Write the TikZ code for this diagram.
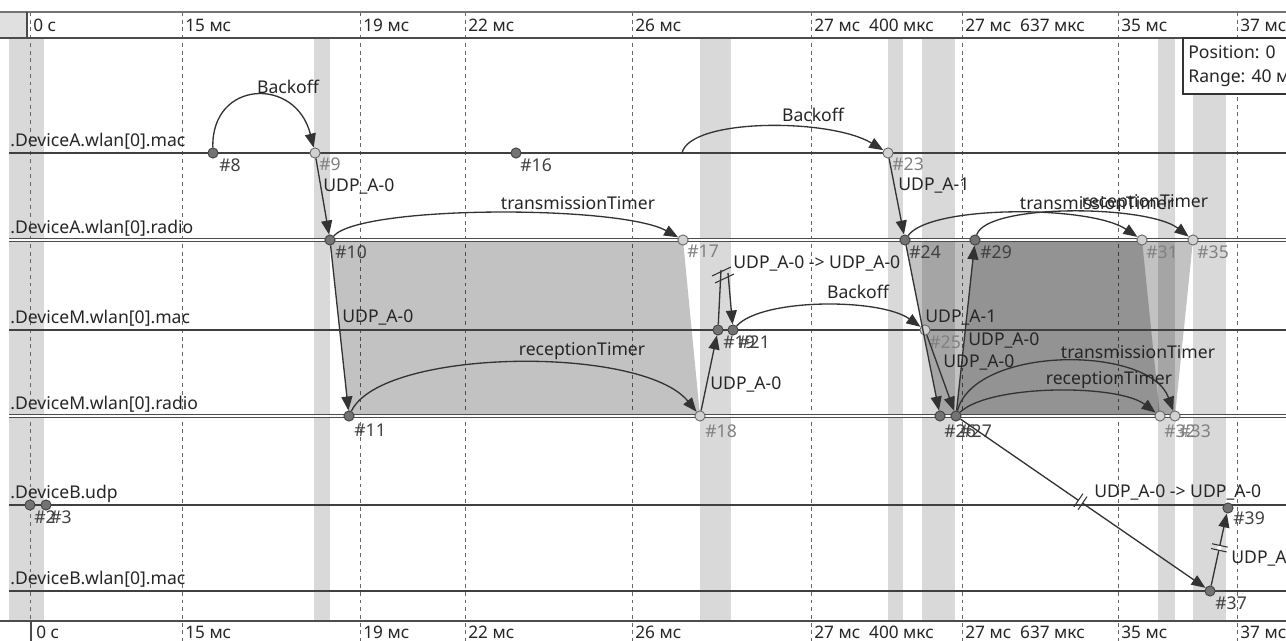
\documentclass[tikz,border=0pt]{standalone}
\usepackage{fontspec}
\setmainfont{Noto Sans}
\usetikzlibrary{arrows.meta,calc}
\pgfdeclarelayer{back}
\pgfsetlayers{back,main}

\begin{document}
\begin{tikzpicture}[x=0.02cm,y=-0.02cm]
\tikzset{
  band/.style={fill=black!15},
  tick/.style={draw=black!60,line width=0.45pt,dash pattern=on 2.2pt off 2.2pt},
  axisline/.style={draw=black!70,line width=0.8pt},
  axislabel/.style={anchor=west,inner sep=0pt,font=\fontsize{9.8}{11}\selectfont,text=black!85},
  lifeline/.style={draw=black!75,line width=0.65pt},
  radioline/.style={draw=black!70,line width=0.55pt,double=white,double distance=1.3pt},
  linelabel/.style={anchor=base west,inner sep=0pt,font=\fontsize{10}{12}\selectfont,text=black!85},
  evdark/.style={circle,draw=black!75,fill=black!55,line width=0.5pt,minimum size=5.8pt,inner sep=0pt},
  evlight/.style={circle,draw=black!60,fill=black!18,line width=0.5pt,minimum size=5.8pt,inner sep=0pt},
  evlabel/.style={anchor=north west,inner sep=0pt,font=\fontsize{10}{12}\selectfont,text=black!75},
  evlabellight/.style={evlabel,text=black!50},
  msg/.style={draw=black!80,line width=0.75pt,-{Triangle[length=2.8mm,width=2.2mm]}},
  msgplain/.style={draw=black!80,line width=0.75pt},
  msglabel/.style={inner sep=0pt,font=\fontsize{10}{12}\selectfont,text=black!85},
  breakmark/.style={draw=black!80,line width=0.6pt},
  txshade/.style={fill=black,fill opacity=0.24}
}
\useasboundingbox (0,0) rectangle (1286,641);
\clip (0,0) rectangle (1286,641);

% axes
\fill[black!12] (0,12) rectangle (27,38);
\draw[draw=black!55,line width=1.4pt] (0,12) -- (1286,12);
\draw[axisline] (0,38) -- (1286,38);
\draw[axisline] (0,621) -- (1286,621);
\draw[axisline] (27,12) -- (27,38);
\draw[axisline] (31,621) -- (31,641);
\node[axislabel] (at_0) at (33,25) {0 с};
\node[axislabel] (at_15) at (185,25) {15 мс};
\node[axislabel] (at_19) at (363,25) {19 мс};
\node[axislabel] (at_22) at (468,25) {22 мс};
\node[axislabel] (at_26) at (635,25) {26 мс};
\node[axislabel] (at_274) at (814,25) {27 мс\ \ 400 мкс};
\node[axislabel] (at_276) at (965,25) {27 мс\ \ 637 мкс};
\node[axislabel] (at_35) at (1121,25) {35 мс};
\node[axislabel] (at_37) at (1240,25) {37 мс};
\node[axislabel] (ab_0) at (36,632) {0 с};
\node[axislabel] (ab_15) at (185,632) {15 мс};
\node[axislabel] (ab_19) at (363,632) {19 мс};
\node[axislabel] (ab_22) at (468,632) {22 мс};
\node[axislabel] (ab_26) at (635,632) {26 мс};
\node[axislabel] (ab_274) at (814,632) {27 мс\ \ 400 мкс};
\node[axislabel] (ab_276) at (965,632) {27 мс\ \ 637 мкс};
\node[axislabel] (ab_35) at (1121,632) {35 мс};
\node[axislabel] (ab_37) at (1240,632) {37 мс};

% lifelines
\draw[lifeline] (9,153) -- (1286,153);
\draw[radioline] (9,240) -- (1286,240);
\draw[lifeline] (9,330) -- (1286,330);
\draw[radioline] (9,416) -- (1286,416);
\draw[lifeline] (9,505) -- (1286,505);
\draw[lifeline] (9,591) -- (1286,591);
\node[linelabel] (ll_amac) at (10,147) {.DeviceA.wlan[0].mac};
\node[linelabel] (ll_aradio) at (10,234) {.DeviceA.wlan[0].radio};
\node[linelabel] (ll_mmac) at (10,324) {.DeviceM.wlan[0].mac};
\node[linelabel] (ll_mradio) at (10,410) {.DeviceM.wlan[0].radio};
\node[linelabel] (ll_budp) at (10,499) {.DeviceB.udp};
\node[linelabel] (ll_bmac) at (10,585) {.DeviceB.wlan[0].mac};

% events
\node[evdark] (e_8) at (213,153) {};
\node[evlight] (e_9) at (315,153) {};
\node[evdark] (e_16) at (516,153) {};
\node[evlight] (e_23) at (888,153) {};
\coordinate (c_bo) at (682,153);
\node[evdark] (e_10) at (330,240) {};
\node[evlight] (e_17) at (683,240) {};
\node[evdark] (e_24) at (905,240) {};
\node[evdark] (e_29) at (975,240) {};
\node[evlight] (e_31) at (1142,240) {};
\node[evlight] (e_35) at (1193,240) {};
\node[evdark] (e_19) at (718,330) {};
\node[evdark] (e_21) at (733,330) {};
\node[evlight] (e_25) at (925,330) {};
\node[evdark] (e_11) at (349,416) {};
\node[evlight] (e_18) at (700,416) {};
\node[evdark] (e_26) at (940,416) {};
\node[evdark] (e_27) at (956,416) {};
\node[evlight] (e_32) at (1160,416) {};
\node[evlight] (e_33) at (1175,416) {};
\node[evdark] (e_2) at (30,505) {};
\node[evdark] (e_3) at (46,505) {};
\node[evdark] (e_39) at (1228,508) {};
\node[evdark] (e_37) at (1210,591) {};

% event labels
\node[evlabel] (l_8) at (219,158) {\#8};
\node[evlabellight] (l_9) at (319,157) {\#9};
\node[evlabel] (l_16) at (520,158) {\#16};
\node[evlabellight] (l_23) at (892,157) {\#23};
\node[evlabel] (l_10) at (335,245) {\#10};
\node[evlabellight] (l_17) at (687,245) {\#17};
\node[evlabel] (l_24) at (909,245) {\#24};
\node[evlabel] (l_29) at (980,245) {\#29};
\node[evlabellight] (l_31) at (1146,245) {\#31};
\node[evlabellight] (l_35) at (1197,245) {\#35};
\node[evlabel] (l_19) at (723,335) {\#19};
\node[evlabel] (l_21) at (738,335) {\#21};
\node[evlabellight] (l_25) at (929,335) {\#25};
\node[evlabel] (l_11) at (354,424) {\#11};
\node[evlabellight] (l_18) at (705,424) {\#18};
\node[evlabel] (l_26) at (944,424) {\#26};
\node[evlabel] (l_27) at (960,424) {\#27};
\node[evlabellight] (l_32) at (1164,424) {\#32};
\node[evlabellight] (l_33) at (1179,424) {\#33};
\node[evlabel] (l_2) at (34,510) {\#2};
\node[evlabel] (l_3) at (50,510) {\#3};
\node[evlabel] (l_39) at (1233,511) {\#39};
\node[evlabel] (l_37) at (1215,596) {\#37};

% timers and messages
\draw[msg] (e_8) .. controls (211,80) and (296,76) .. (e_9);
\draw[msg] (e_9) -- (e_10);
\draw[msg] (e_10) .. controls (362,205) and (620,205) .. (e_17);
\draw[msg] (e_10) -- (e_11);
\draw[msg] (e_11) .. controls (382,348) and (642,345) .. (e_18);
\draw[msg] (e_18) -- (e_19);
\coordinate (k_a) at (721,270);
\coordinate (k_b) at (728,273);
\draw[msgplain] (e_19) -- (k_a);
\draw[msg] (k_b) -- (e_21);
\draw[breakmark] (712,276) -- (731,267);
\draw[breakmark] (715,283) -- (734,274);
\draw[msg] (e_21) .. controls (762,298) and (880,298) .. (e_25);
\draw[msg] (c_bo) .. controls (690,118) and (830,118) .. (e_23);
\draw[msg] (e_23) -- (e_24);
\draw[msg] (e_24) .. controls (930,205) and (1090,205) .. (e_31);
\draw[msg] (e_29) .. controls (987,203) and (1148,205) .. (e_35);
\draw[msg] (e_24) -- (e_26);
\draw[msg] (e_25) -- (e_27);
\draw[msg] (e_27) -- (e_29);
\draw[msg] (e_27) .. controls (975,345) and (1150,345) .. (e_33);
\draw[msg] (e_27) .. controls (990,384) and (1118,384) .. (e_32);
\draw[msg] (e_27) -- (e_37);
\coordinate (k_c) at ($(e_27)!0.49!(e_37)$);
\draw[white,line width=2.2pt] ($(k_c)+(-2.1,-1.4)$) -- ($(k_c)+(2.1,1.4)$);
\draw[breakmark] ($(k_c)+(2.4,-8)$) -- ($(k_c)+(-6.6,5.2)$);
\draw[breakmark] ($(k_c)+(6.6,-5.2)$) -- ($(k_c)+(-2.4,8)$);
\draw[msg] (e_37) -- (e_39);
\coordinate (k_d) at ($(e_37)!0.52!(e_39)$);
\draw[white,line width=2.2pt] ($(k_d)+(-0.5,2.4)$) -- ($(k_d)+(0.5,-2.4)$);
\draw[breakmark] ($(k_d)+(7.3,4.1)$) -- ($(k_d)+(-8.3,0.7)$);
\draw[breakmark] ($(k_d)+(8.3,-0.7)$) -- ($(k_d)+(-7.3,-4.1)$);

% message labels
\node[msglabel] (m_bo1) at (288,87) {Backoff};
\node[msglabel,anchor=west] (m_u1) at (323,186) {UDP\_A-0};
\node[msglabel] (m_tt1) at (578,203) {transmissionTimer};
\node[msglabel,anchor=west] (m_u2) at (342,317) {UDP\_A-0};
\node[msglabel] (m_rt1) at (582,351) {receptionTimer};
\node[msglabel,anchor=west] (m_u3) at (710,384) {UDP\_A-0};
\node[msglabel,anchor=west] (m_u4) at (733,263) {UDP\_A-0 -> UDP\_A-0};
\node[msglabel] (m_bo2) at (813,115) {Backoff};
\node[msglabel,anchor=west] (m_u5) at (898,186) {UDP\_A-1};
\node[msglabel] (m_tt2) at (1097,203) {transmissionTimer};
\node[msglabel] (m_rt2) at (1145,203) {receptionTimer};
\node[msglabel] (m_bo3) at (858,292) {Backoff};
\node[msglabel,anchor=west] (m_u6) at (925,318) {UDP\_A-1};
\node[msglabel,anchor=west] (m_u7) at (968,340) {UDP\_A-0};
\node[msglabel,anchor=west] (m_u8) at (943,362) {UDP\_A-0};
\node[msglabel] (m_tt3) at (1138,352) {transmissionTimer};
\node[msglabel] (m_rt3) at (1109,380) {receptionTimer};
\node[msglabel,anchor=west] (m_u9) at (1094,492) {UDP\_A-0 -> UDP\_A-0};
\node[msglabel,anchor=west] (m_u10) at (1231,558) {UDP\_A-0};

% position box
\draw[draw=black!80,fill=white,line width=0.6pt] (1183,38) rectangle (1296,94);
\node[msglabel,anchor=west] (p_pos) at (1188,52) {Position: 0};
\node[msglabel,anchor=west] (p_rng) at (1188,78) {Range: 40 мс};

% background: bands, ticks, transmissions
\begin{pgfonlayer}{back}
\fill[white] (0,0) rectangle (1286,641);
\fill[band] (9,38) rectangle (44,621);
\fill[band] (314,38) rectangle (330,621);
\fill[band] (700,38) rectangle (731,621);
\fill[band] (888,38) rectangle (903,621);
\fill[band] (922,38) rectangle (955,621);
\fill[band] (1158,38) rectangle (1175,621);
\fill[band] (1193,94) rectangle (1226,621);
\draw[tick] (30,12) -- (30,641);
\draw[tick] (182,12) -- (182,641);
\draw[tick] (360,12) -- (360,641);
\draw[tick] (465,12) -- (465,641);
\draw[tick] (632,12) -- (632,641);
\draw[tick] (811,12) -- (811,641);
\draw[tick] (962,12) -- (962,641);
\draw[tick] (1118,12) -- (1118,641);
\draw[tick] (1237,12) -- (1237,641);
\fill[txshade] (e_10.center) -- (e_17.center) -- (e_18.center) -- (e_11.center) -- cycle;
\fill[txshade] (e_24.center) -- (e_31.center) -- (e_32.center) -- (e_26.center) -- cycle;
\fill[txshade] (e_29.center) -- (e_35.center) -- (e_33.center) -- (e_27.center) -- cycle;
\end{pgfonlayer}
\end{tikzpicture}
\end{document}
